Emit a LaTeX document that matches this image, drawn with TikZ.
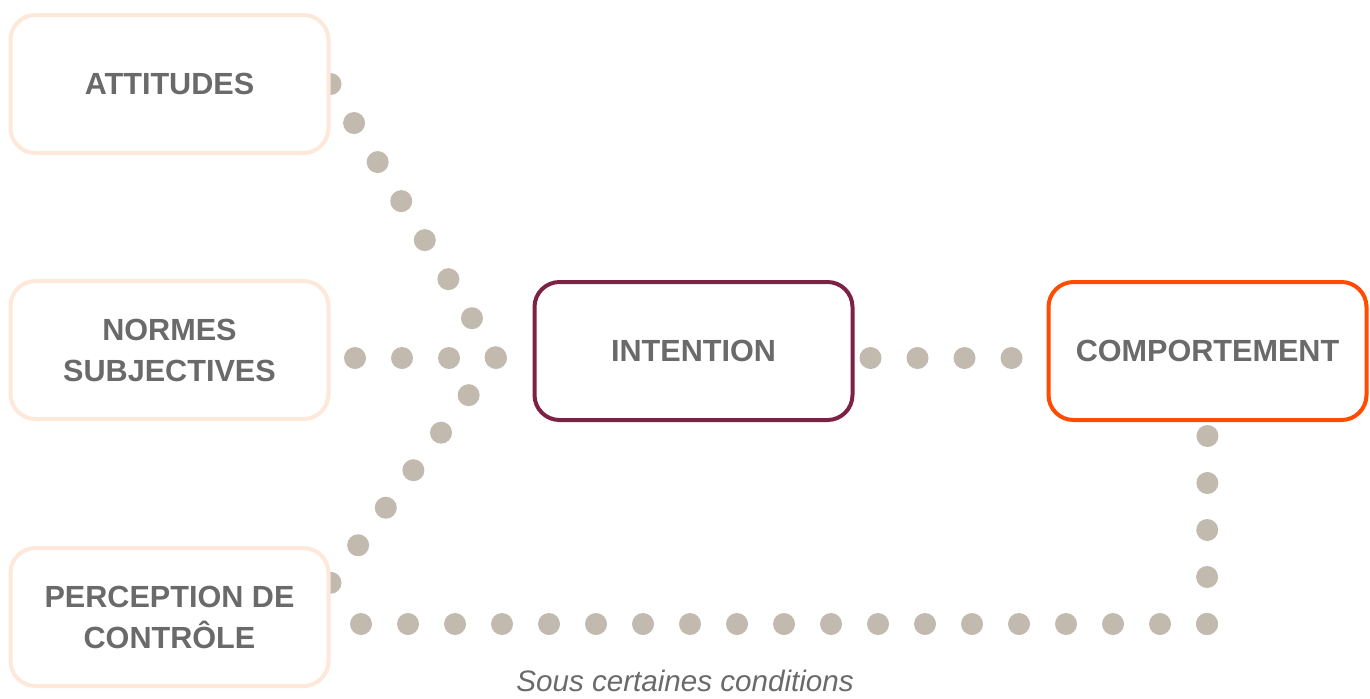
\documentclass[tikz,border=0pt]{standalone}
\usepackage{fontspec}
\setmainfont{Liberation Sans}
\usepackage{xcolor}
\usetikzlibrary{positioning, calc, backgrounds}

\definecolor{peach}{HTML}{FDE8D9}
\definecolor{wine}{HTML}{7D2245}
\definecolor{flame}{HTML}{FF4C00}
\definecolor{pebble}{HTML}{C2B9AF}
\definecolor{inkgray}{HTML}{6A6A6A}

\begin{document}
\begin{tikzpicture}[
        x=0.5pt, y=-0.5pt,
        % rounded boxes of the model
        modelbox/.style={
            rectangle, draw=#1, line width=2pt, fill=white,
            rounded corners=12.5pt,
            minimum width=159pt, minimum height=69pt,
            align=center, text=inkgray,
            font=\fontsize{15.3}{20.5}\selectfont\bfseries
        },
        modelbox/.default=peach,
        % dotted links
        dotline/.style={
            draw=pebble, line width=11pt, line cap=round,
            dash pattern=on 0pt off #1
        },
        dotline/.default=23.5pt
    ]
    \useasboundingbox (0,0) rectangle (1370,698);

    % ==========================
    % NODES
    % ==========================
    \node[modelbox] (attitudes)    at (169.5, 84)  {ATTITUDES};
    \node[modelbox] (normes)       at (169.5, 350) {NORMES\\SUBJECTIVES};
    \node[modelbox] (perception)   at (169.5, 617) {PERCEPTION DE\\CONTRÔLE};
    \node[modelbox=wine]  (intention)    at (693.5, 351)  {INTENTION};
    \node[modelbox=flame] (comportement) at (1207.5, 351) {COMPORTEMENT};

    \node[text=inkgray, font=\fontsize{14.8}{17}\selectfont\itshape]
        (cond) at (685, 681) {Sous certaines conditions};

    \coordinate (hub) at (496, 358);
    \coordinate (low) at (1207, 624);

    % ==========================
    % DOTTED LINKS (behind the boxes)
    % ==========================
    \begin{scope}[on background layer]
        \draw[dotline=22.8pt] (attitudes.east) -- (hub);
        \draw[dotline] (hub) -- (hub -| normes.east);
        \draw[dotline=23.3pt] (perception.12) -- (hub);
        \draw[dotline, shorten <=8pt] (intention.east |- hub) -- (comportement.west |- hub);
        \draw[dotline] (low) -- (comportement.south);
        \draw[dotline] (low) -- (perception.east |- low);
    \end{scope}

\end{tikzpicture}
\end{document}
